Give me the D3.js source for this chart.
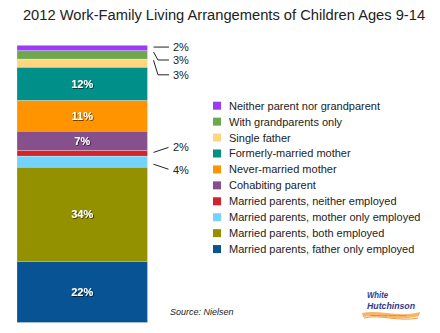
<!DOCTYPE html>
<html>
<head>
<meta charset="utf-8">
<script src="https://cdn.jsdelivr.net/npm/d3@7"></script>
<style>
  html, body { margin: 0; padding: 0; background: #fff; }
  svg { display: block; font-family: "Liberation Sans", Arial, Helvetica, sans-serif; }
</style>
</head>
<body>
<svg id="chart" width="440" height="333"></svg>
<script>
// Stack order, top of the bar first
const categories = [
  "Neither parent nor grandparent",
  "With grandparents only",
  "Single father",
  "Formerly-married mother",
  "Never-married mother",
  "Cohabiting parent",
  "Married parents, neither employed",
  "Married parents, mother only employed",
  "Married parents, both employed",
  "Married parents, father only employed"
];
const values = [2, 3, 3, 12, 11, 7, 2, 4, 34, 22];
const colors = [
  "#9a3cf7", "#6da84c", "#fed580", "#009089", "#ff9300",
  "#86508e", "#d2232b", "#74d3fb", "#949100", "#075393"
];
const groups = ["2012"];
const titleText = "2012 Work-Family Living Arrangements of Children Ages 9-14";
const sourceText = "Source: Nielsen";

// Callout layout for small segments: label y offset from segment middle, elbow flag
const callouts = [
  { i: 0, dy: -1, elbow: false },
  { i: 1, dy: 5, elbow: true },
  { i: 2, dy: 11.5, elbow: true },
  { i: 6, dy: -6.5, elbow: false },
  { i: 7, dy: 8, elbow: false }
];

const svg = d3.select("#chart");

const x = d3.scaleBand().domain(groups).range([17, 147.5]).padding(0);
const y = d3.scaleLinear().domain([0, 100]).range([322.5, 45.3]);

// cumulative stack from the top down
let acc = 100;
const segs = values.map((v, i) => {
  const top = acc;
  acc -= v;
  return { i, v, top, bottom: acc, name: categories[i], color: colors[i] };
});

svg.append("text")
  .attr("x", 224).attr("y", 20)
  .attr("text-anchor", "middle")
  .attr("font-size", 14.7)
  .attr("fill", "#222")
  .text(titleText);

const defs = svg.append("defs");
const f = defs.append("filter").attr("id", "shadow")
  .attr("x", "-20%").attr("y", "-30%").attr("width", "140%").attr("height", "160%");
f.append("feDropShadow").attr("dx", 0.8).attr("dy", 0.8)
  .attr("stdDeviation", 0.6).attr("flood-color", "#000").attr("flood-opacity", 0.7);

const bar = svg.append("g");
bar.selectAll("rect").data(segs).join("rect")
  .attr("x", x("2012"))
  .attr("width", x.bandwidth())
  .attr("y", d => y(d.top))
  .attr("height", d => y(d.bottom) - y(d.top))
  .attr("fill", d => d.color)
  .attr("stroke", "#fff")
  .attr("stroke-opacity", 0.5)
  .attr("stroke-width", 0.5);

// values inside the larger segments
bar.selectAll("text").data(segs.filter(d => d.v >= 7)).join("text")
  .attr("x", x("2012") + x.bandwidth() / 2)
  .attr("y", d => (y(d.top) + y(d.bottom)) / 2)
  .attr("dy", "0.36em")
  .attr("text-anchor", "middle")
  .attr("font-size", 11)
  .attr("font-weight", "bold")
  .attr("fill", "#fff")
  .attr("filter", "url(#shadow)")
  .text(d => d.v + "%");

// callouts for the thin segments
const x0 = x("2012") + x.bandwidth() + 6;
const cg = svg.append("g");
callouts.forEach(c => {
  const d = segs[c.i];
  const mid = (y(d.top) + y(d.bottom)) / 2;
  const ly = mid + c.dy;
  let pts;
  if (c.elbow) {
    const sy = mid - 3;
    pts = [[x0, sy], [x0 + 4.5, ly], [x0 + 15.5, ly]];
  } else if (Math.abs(c.dy) < 2) {
    pts = [[x0, ly], [x0 + 15.5, ly]];
  } else {
    pts = [[x0, mid + (c.dy < 0 ? -1 : 2.5)], [x0 + 15, ly + (c.dy < 0 ? 0.5 : -0.5)]];
  }
  cg.append("path")
    .attr("d", d3.line()(pts))
    .attr("fill", "none")
    .attr("stroke", "#222")
    .attr("stroke-width", 1);
  cg.append("text")
    .attr("x", x0 + 19.5)
    .attr("y", ly)
    .attr("dy", "0.36em")
    .attr("font-size", 11)
    .attr("fill", "#222")
    .text(d.v + "%");
});

// legend
const legend = svg.append("g").attr("transform", "translate(213,105.7)");
const rows = legend.selectAll("g").data(segs).join("g")
  .attr("transform", (d, i) => `translate(0,${i * 15.93})`);
rows.append("rect")
  .attr("x", 0).attr("y", -4).attr("width", 8).attr("height", 8)
  .attr("fill", d => d.color);
rows.append("text")
  .attr("x", 16).attr("y", 0).attr("dy", "0.36em")
  .attr("font-size", 11)
  .attr("fill", "#222")
  .text(d => d.name);

svg.append("text")
  .attr("x", 170).attr("y", 315)
  .attr("font-size", 9)
  .attr("font-style", "italic")
  .attr("fill", "#222")
  .text(sourceText);

// company logo
const logo = svg.append("g");
logo.append("path")
  .attr("d", "M362,313 C378,309 398,318 420,312 L419,316 C398,322 378,314 363,317 Z")
  .attr("fill", "#f7b56a");
logo.append("path")
  .attr("d", "M364,318 C380,314 398,322 418,318")
  .attr("fill", "none").attr("stroke", "#f59a3a").attr("stroke-width", 1);
logo.append("text")
  .attr("x", 367).attr("y", 298)
  .attr("font-size", 9).attr("font-weight", "bold").attr("font-style", "italic")
  .attr("fill", "#34398f")
  .attr("textLength", 21).attr("lengthAdjust", "spacingAndGlyphs")
  .text("White");
logo.append("text")
  .attr("x", 367).attr("y", 308.5)
  .attr("font-size", 9).attr("font-weight", "bold").attr("font-style", "italic")
  .attr("fill", "#34398f")
  .attr("textLength", 48).attr("lengthAdjust", "spacingAndGlyphs")
  .text("Hutchinson");
logo.append("text")
  .attr("x", 370).attr("y", 316)
  .attr("font-size", 2.5)
  .attr("fill", "#6b5fa6")
  .text("LEISURE & LEARNING GROUP");
</script>
</body>
</html>
